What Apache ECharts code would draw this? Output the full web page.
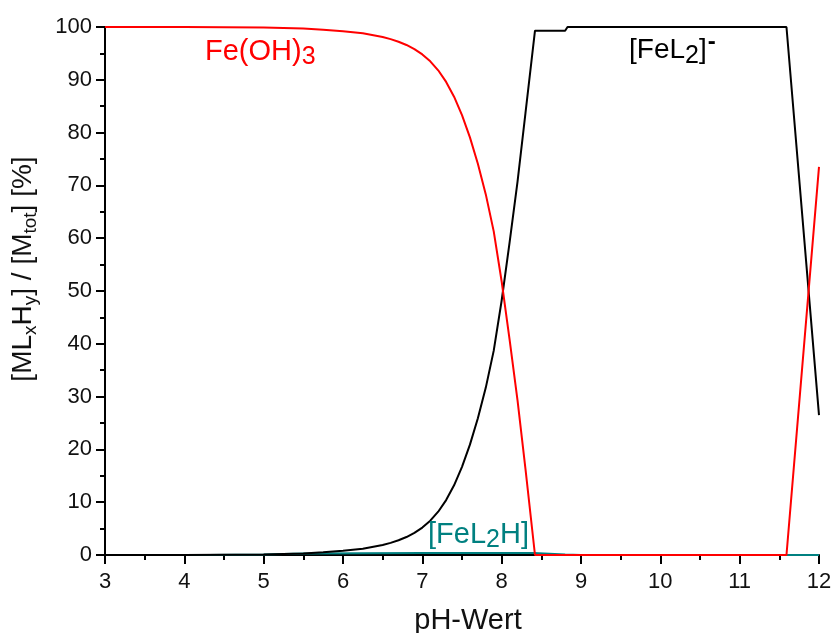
<!DOCTYPE html>
<html>
<head>
<meta charset="utf-8">
<script src="https://cdn.jsdelivr.net/npm/echarts@6/dist/echarts.min.js"></script>
<style>html,body{margin:0;padding:0;background:#fff}#c{width:835px;height:633px}</style>
</head>
<body>
<div id="c"></div>
<script>
// pH values and percentages
const phFeOH3 = [3, 4, 5, 5.5, 5.75, 6, 6.25, 6.5, 6.6, 6.7, 6.8, 6.9, 7, 7.1, 7.2, 7.3, 7.4, 7.5, 7.6, 7.7, 7.8, 7.9, 8, 8.1, 8.2, 8.3, 8.42, 9, 10, 11, 11.59, 12];
const valFeOH3 = [100, 100, 99.9, 99.7, 99.5, 99.2, 98.8, 98.1, 97.7, 97.2, 96.6, 95.8, 94.8, 93.5, 91.8, 89.6, 86.8, 83.3, 79.1, 74.1, 68.3, 61.3, 51.8, 40.8, 29.3, 16.3, 0, 0, 0, 0, 0, 73.5];

const phFeL2 = [3, 4, 5, 5.5, 5.75, 6, 6.25, 6.5, 6.6, 6.7, 6.8, 6.9, 7, 7.1, 7.2, 7.3, 7.4, 7.5, 7.6, 7.7, 7.8, 7.9, 8, 8.1, 8.2, 8.3, 8.42, 8.8, 8.83, 10, 11, 11.59, 12];
const valFeL2 = [0, 0, 0.1, 0.3, 0.5, 0.8, 1.2, 1.9, 2.3, 2.8, 3.4, 4.2, 5.2, 6.5, 8.2, 10.4, 13.2, 16.7, 20.9, 25.9, 31.7, 38.7, 48.2, 59.2, 70.7, 83.7, 99.3, 99.3, 100, 100, 100, 100, 26.5];

const phFeL2H = [3, 4.3, 5, 5.5, 7, 8.4, 8.8, 9, 12];
const valFeL2H = [0, 0, 0.1, 0.3, 0.4, 0.4, 0.1, 0, 0];

const xTicks = [3, 4, 5, 6, 7, 8, 9, 10, 11, 12];
const yTicks = [0, 10, 20, 30, 40, 50, 60, 70, 80, 90, 100];

const zip = (a, b) => a.map((x, i) => [x, b[i]]);
const FONT = 'Liberation Sans, Arial, sans-serif';

const chart = echarts.init(document.getElementById('c'), null, {renderer: 'canvas'});
chart.setOption({
  animation: false,
  backgroundColor: '#fff',
  grid: {left: 105, right: 16, top: 27, bottom: 78, containLabel: false, outerBoundsMode: 'none'},
  xAxis: {
    type: 'value', min: xTicks[0], max: xTicks[xTicks.length - 1], interval: 1,
    name: 'pH-Wert', nameLocation: 'middle', nameGap: 51,
    nameTextStyle: {fontFamily: FONT, fontSize: 29, color: '#111', padding: [0, 0, 0, 12]},
    axisLine: {show: true, onZero: false, lineStyle: {color: '#000', width: 2}},
    axisTick: {show: true, inside: false, length: 9, lineStyle: {color: '#000', width: 2}},
    minorTick: {show: true, splitNumber: 2, length: 5, lineStyle: {color: '#000', width: 2}},
    axisLabel: {fontFamily: FONT, fontSize: 22, color: '#111', margin: 16},
    splitLine: {show: false}
  },
  yAxis: {
    type: 'value', min: yTicks[0], max: yTicks[yTicks.length - 1], interval: 10,
    name: '[ML{s|x}H{s|y}] / [M{s|tot}] [%]', nameLocation: 'middle', nameGap: 65, nameRotate: 90,
    nameTextStyle: {fontFamily: FONT, fontSize: 28, color: '#111', padding: [0, 0, 0, 44],
      rich: {s: {fontFamily: FONT, fontSize: 19, color: '#111', padding: [14, 0, 0, 0]}}},
    axisLine: {show: true, onZero: false, lineStyle: {color: '#000', width: 2}},
    axisTick: {show: true, inside: false, length: 9, lineStyle: {color: '#000', width: 2}},
    minorTick: {show: true, splitNumber: 2, length: 5, lineStyle: {color: '#000', width: 2}},
    axisLabel: {fontFamily: FONT, fontSize: 22, color: '#111', margin: 13},
    splitLine: {show: false}
  },
  series: [
    {type: 'line', name: '[FeL2H]', data: zip(phFeL2H, valFeL2H), showSymbol: false,
     lineStyle: {color: '#008080', width: 2}, z: 2},
    {type: 'line', name: '[FeL2]-', data: zip(phFeL2, valFeL2), showSymbol: false,
     lineStyle: {color: '#000', width: 2}, z: 3},
    {type: 'line', name: 'Fe(OH)3', data: zip(phFeOH3, valFeOH3), showSymbol: false,
     lineStyle: {color: '#ff0000', width: 2}, z: 4}
  ],
  graphic: [
    {type: 'text', left: 205, top: 37, z: 10, style: {
      text: 'Fe(OH){s|3}', fontFamily: FONT, fontSize: 29, fill: '#ff0000',
      rich: {s: {fontFamily: FONT, fontSize: 25, fill: '#ff0000', padding: [12, 0, 0, 0]}}}},
    {type: 'text', left: 629, top: 30, z: 10, style: {
      text: '[FeL{s|2}]{p|-}', fontFamily: FONT, fontSize: 28, fill: '#000',
      rich: {s: {fontFamily: FONT, fontSize: 25, fill: '#000', padding: [12, 0, 0, 0]},
             p: {fontFamily: FONT, fontSize: 24, fontWeight: 'bold', fill: '#000', padding: [0, 0, 16, 1]}}}},
    {type: 'text', left: 428, top: 520, z: 10, style: {
      text: '[FeL{s|2}H]', fontFamily: FONT, fontSize: 29, fill: '#008080',
      rich: {s: {fontFamily: FONT, fontSize: 25, fill: '#008080', padding: [12, 0, 0, 0]}}}}
  ]
});
</script>
</body>
</html>
